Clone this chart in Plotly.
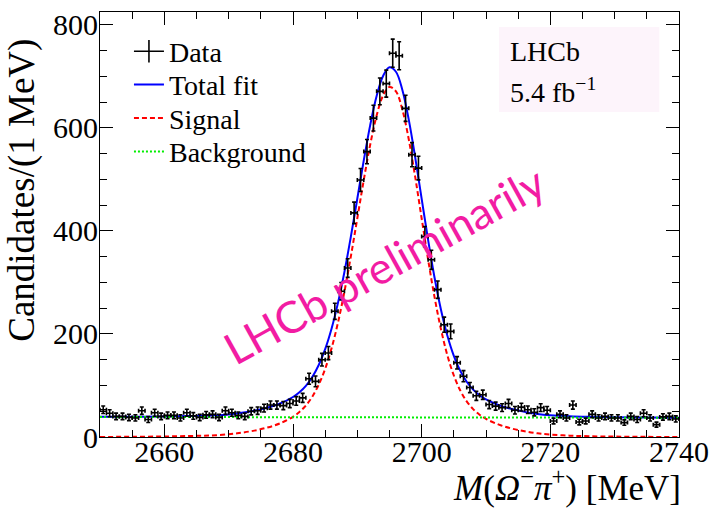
import plotly.graph_objects as go

# ---------------- data ----------------
bin_low = 2650.0
bin_width = 1.0
counts = [53, 46, 40, 40, 38, 37, 51, 34, 47, 40,
          42, 42, 37, 47, 41, 38, 43, 44, 38, 51,
          47, 42, 40, 50, 51, 56, 62, 62, 61, 65,
          70, 76, 113, 108, 150, 163, 244, 283, 328, 435,
          499, 554, 619, 671, 686, 745, 740, 638, 548, 522,
          389, 344, 286, 218, 205, 144, 118, 96, 80, 82,
          63, 60, 57, 65, 52, 58, 53, 48, 57, 52,
          31, 44, 37, 62, 29, 31, 44, 37, 40, 37,
          37, 28, 40, 34, 46, 37, 24, 39, 40, 35]
bin_centers = [bin_low + bin_width * (i + 0.5) for i in range(len(counts))]
count_err = [c ** 0.5 for c in counts]

fit_mass = [2650, 2655, 2660, 2664, 2667, 2670, 2672, 2674, 2676, 2678,
            2680, 2681, 2682, 2683, 2684, 2685, 2686, 2687, 2688, 2689,
            2690, 2691, 2692, 2693, 2694, 2695, 2696, 2697, 2698, 2699,
            2700, 2701, 2702, 2703, 2704, 2705, 2706, 2707, 2708, 2709,
            2710, 2712, 2714, 2716, 2718, 2720, 2723, 2726, 2730, 2735, 2740]
signal_fit = [0.15, 0.4, 1.0, 2.0, 2.8, 5.3, 8.3, 12.4, 18.3, 26.5,
              39.2, 48.5, 61.1, 78.3, 101.5, 132.4, 172.5, 222.6, 282.7, 351.1,
              424.7, 498.8, 567.4, 623.9, 662.8, 679.5, 670.9, 635.4, 577.4, 504.3,
              424.1, 344.6, 271.6, 209.1, 158.4, 119.4, 90.3, 69.2, 54.1, 43.2,
              35.1, 24.0, 16.4, 11.0, 7.1, 4.6, 2.6, 1.5, 0.8, 0.3, 0.1]
total_fit = [39.2, 39.3, 39.8, 40.7, 41.5, 43.9, 46.9, 50.9, 56.8, 65.0,
             77.6, 86.9, 99.4, 116.6, 139.8, 170.7, 210.8, 260.9, 320.9, 389.3,
             462.9, 536.9, 605.5, 662.0, 700.9, 717.6, 709.0, 673.5, 615.5, 542.4,
             462.2, 382.6, 309.6, 247.1, 196.4, 157.4, 128.3, 107.2, 92.0, 81.1,
             73.0, 61.8, 54.2, 48.8, 44.8, 42.3, 40.2, 39.1, 38.3, 37.7, 37.4]
bkg_mass = [2650, 2740]
bkg_fit = [39.0, 37.3]

x_ticks = [2660, 2680, 2700, 2720, 2740]
y_ticks = [0, 200, 400, 600, 800]

SERIF = "Liberation Serif, Times New Roman, serif"

fig = go.Figure()

# legend-only entry for data (cross symbol)
fig.add_trace(go.Scatter(
    x=[None], y=[None], mode="lines+markers", name="Data", legend="legend",
    line=dict(color="black", width=1.6),
    marker=dict(symbol="line-ns", size=20, color="black",
                line=dict(color="black", width=1.6)),
))
fig.add_trace(go.Scatter(
    x=fit_mass, y=total_fit, mode="lines", name="Total fit", legend="legend2",
    line=dict(color="#0000ff", width=2, shape="spline", smoothing=1.0),
))
fig.add_trace(go.Scatter(
    x=fit_mass, y=signal_fit, mode="lines", name="Signal", legend="legend3",
    line=dict(color="#ff0000", width=2, dash="5px,3px", shape="spline", smoothing=1.0),
))
fig.add_trace(go.Scatter(
    x=bkg_mass, y=bkg_fit, mode="lines", name="Background", legend="legend4",
    line=dict(color="#00ee00", width=2, dash="2px,2px"),
))
fig.add_trace(go.Scatter(
    x=bin_centers, y=counts, mode="markers", showlegend=False,
    marker=dict(size=1, color="black"),
    error_x=dict(type="constant", value=bin_width / 2, color="black", thickness=1.6, width=2),
    error_y=dict(type="data", array=count_err, color="black", thickness=1.6, width=2),
))

axis_common = dict(
    showline=True, linecolor="black", linewidth=1.2, mirror="ticks",
    ticks="inside", tickcolor="black", tickwidth=1.2,
    showgrid=False, zeroline=False, automargin=False,
    tickfont=dict(family=SERIF, size=30, color="black"),
)

fig.update_xaxes(
    range=[2650, 2740], tickvals=x_ticks, ticklen=13,
    minor=dict(dtick=5, tick0=2650, ticklen=7, ticks="inside", tickcolor="black", showgrid=False),
    ticklabelstandoff=-12,
    **axis_common,
)
fig.update_yaxes(
    range=[0, 825], tickvals=y_ticks, ticklen=13,
    minor=dict(dtick=50, tick0=0, ticklen=7, ticks="inside", tickcolor="black", showgrid=False),
    ticklabelstandoff=-5,
    **axis_common,
)

# LHCb label box
fig.add_shape(type="rect", xref="paper", yref="paper",
              x0=0.689, x1=0.966, y0=0.765, y1=0.965,
              fillcolor="#fdf4fb", line=dict(width=0), layer="below")

x_title = "<i>M</i>(<i>Ω</i><sup>−</sup><i>π</i><sup>+</sup>) [MeV]"

annotations = [
    dict(text="LHCb", x=0.705, y=0.907, xanchor="left", yanchor="middle",
         font=dict(family=SERIF, size=28, color="black")),
    dict(text="5.4 fb<sup>−1</sup>", x=0.705, y=0.815, xanchor="left", yanchor="middle",
         font=dict(family=SERIF, size=28, color="black")),
    dict(text="Candidates/(1 MeV)", x=-0.136, y=0.580, textangle=-90,
         xanchor="center", yanchor="middle",
         font=dict(family=SERIF, size=37, color="black")),
    dict(text=x_title, x=1.0, y=-0.172, xanchor="right", yanchor="bottom", xshift=4,
         font=dict(family=SERIF, size=35, color="black")),
    dict(text="LHCb preliminarily", x=0.492, y=0.406, textangle=-29,
         xanchor="center", yanchor="middle",
         font=dict(family="Lato", size=44, color="#f21ca3")),
]
for a in annotations:
    a.update(xref="paper", yref="paper", showarrow=False)

legend_style = dict(x=0.05, xanchor="left", yanchor="middle",
                    bgcolor="rgba(0,0,0,0)", borderwidth=0,
                    font=dict(family=SERIF, size=28, color="black"),
                    itemwidth=30)

fig.update_layout(
    width=711, height=511,
    margin=dict(l=100, r=32, t=12, b=74),
    paper_bgcolor="white", plot_bgcolor="white",
    font=dict(family=SERIF),
    annotations=annotations,
    showlegend=True,
    legend=dict(y=0.907, **legend_style),
    legend2=dict(y=0.829, **legend_style),
    legend3=dict(y=0.750, **legend_style),
    legend4=dict(y=0.671, **legend_style),
)

fig.write_html("out.html")
